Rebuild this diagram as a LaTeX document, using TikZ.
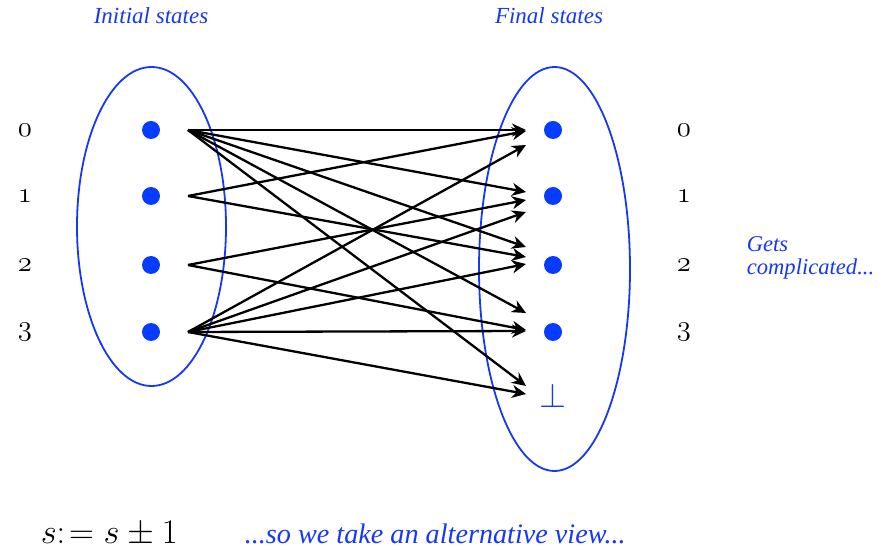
\documentclass[tikz,border=0pt]{standalone}
\usepackage{fontspec}
\usepackage{amsmath}
\newfontfamily\notefont{Liberation Serif}
\newcommand\oldfig[1]{{\fontencoding{OML}\fontfamily{cmm}\fontseries{m}\fontshape{it}\selectfont #1}}
\usetikzlibrary{arrows.meta,calc}
\definecolor{stateblue}{RGB}{22,56,245}
\definecolor{dotblue}{RGB}{5,60,255}

\begin{document}
\begin{tikzpicture}[x=0.5pt, y=-0.5pt, thick,
    dot/.style={circle, fill=dotblue, minimum size=9pt, inner sep=0pt},
    num/.style={font=\fontsize{15}{17}\selectfont},
    note/.style={text=stateblue, font=\notefont\itshape\fontsize{11.5}{11.5}\selectfont},
    trans/.style={-{Stealth[length=7pt,width=6.5pt]}, line width=1.15pt}]
  \useasboundingbox (0,0) rectangle (894,550);

  % the two sets of states
  \draw[stateblue, line width=0.9pt] (151.5,226.5) ellipse [x radius=74.5, y radius=159.5];
  \draw[stateblue, line width=0.9pt] (554.5,269) ellipse [x radius=75.5, y radius=202];

  \node[note, anchor=base] (initial) at (151,24) {Initial states};
  \node[note, anchor=base] (final) at (549,24) {Final states};

  \node[dot] (s0) at (151,130) {};
  \node[dot] (s1) at (151,196) {};
  \node[dot] (s2) at (151,265) {};
  \node[dot] (s3) at (151,332) {};
  \node[dot, right of=s0, node distance=201pt] (t0) {};
  \node[dot, right of=s1, node distance=201pt] (t1) {};
  \node[dot, right of=s2, node distance=201pt] (t2) {};
  \node[dot, right of=s3, node distance=201pt] (t3) {};
  \node[text=stateblue, font=\fontsize{16}{18}\selectfont, below of=t3, node distance=32pt] (tb) {$\perp$};

  \node[num, left of=s0, node distance=63pt] (l0) {\oldfig{0}};
  \node[num, left of=s1, node distance=63pt] (l1) {\oldfig{1}};
  \node[num, left of=s2, node distance=63pt] (l2) {\oldfig{2}};
  \node[num, left of=s3, node distance=63pt] (l3) {\oldfig{3}};
  \node[num, right of=t0, node distance=65.5pt] (r0) {\oldfig{0}};
  \node[num, right of=t1, node distance=65.5pt] (r1) {\oldfig{1}};
  \node[num, right of=t2, node distance=65.5pt] (r2) {\oldfig{2}};
  \node[num, right of=t3, node distance=65.5pt] (r3) {\oldfig{3}};

  % transitions
  \draw[trans] ($(s0)+(37,0)$) -- ($(t0)+(-27,0)$);
  \draw[trans] ($(s0)+(37,0)$) -- ($(t1)+(-27,-4)$);
  \draw[trans] ($(s0)+(37,0)$) -- ($(t2)+(-27,-18)$);
  \draw[trans] ($(s0)+(37,0)$) -- ($(t3)+(-27,-19)$);
  \draw[trans] ($(s0)+(37,0)$) -- ($(tb)+(-27,-10)$);
  \draw[trans] ($(s1)+(37,0)$) -- ($(t0)+(-27,1)$);
  \draw[trans] ($(s1)+(37,0)$) -- ($(t2)+(-27,-8)$);
  \draw[trans] ($(s2)+(37,0)$) -- ($(t1)+(-27,4)$);
  \draw[trans] ($(s2)+(37,0)$) -- ($(t3)+(-27,-2)$);
  \draw[trans] ($(s3)+(37,0)$) -- ($(t0)+(-27,15)$);
  \draw[trans] ($(s3)+(37,0)$) -- ($(t1)+(-27,16)$);
  \draw[trans] ($(s3)+(37,0)$) -- ($(t2)+(-27,-1)$);
  \draw[trans] ($(s3)+(37,0)$) -- ($(t3)+(-27,-1)$);
  \draw[trans] ($(s3)+(37,0)$) -- ($(tb)+(-27,-2)$);

  \node[note, font=\notefont\itshape\fontsize{11.3}{11.5}\selectfont, anchor=base west, align=left, inner sep=0pt] (gets) at (746,275) {Gets\\complicated...};

  \node[anchor=base west, inner sep=0pt, font=\fontsize{16}{18}\selectfont] (rule) at (40,543) {$s{:}\mkern-3mu= s \pm 1$};
  \node[note, font=\notefont\itshape\fontsize{14.1}{16}\selectfont, anchor=base west, inner sep=0pt] (view) at (244,543) {...so we take an alternative view...};
\end{tikzpicture}
\end{document}
